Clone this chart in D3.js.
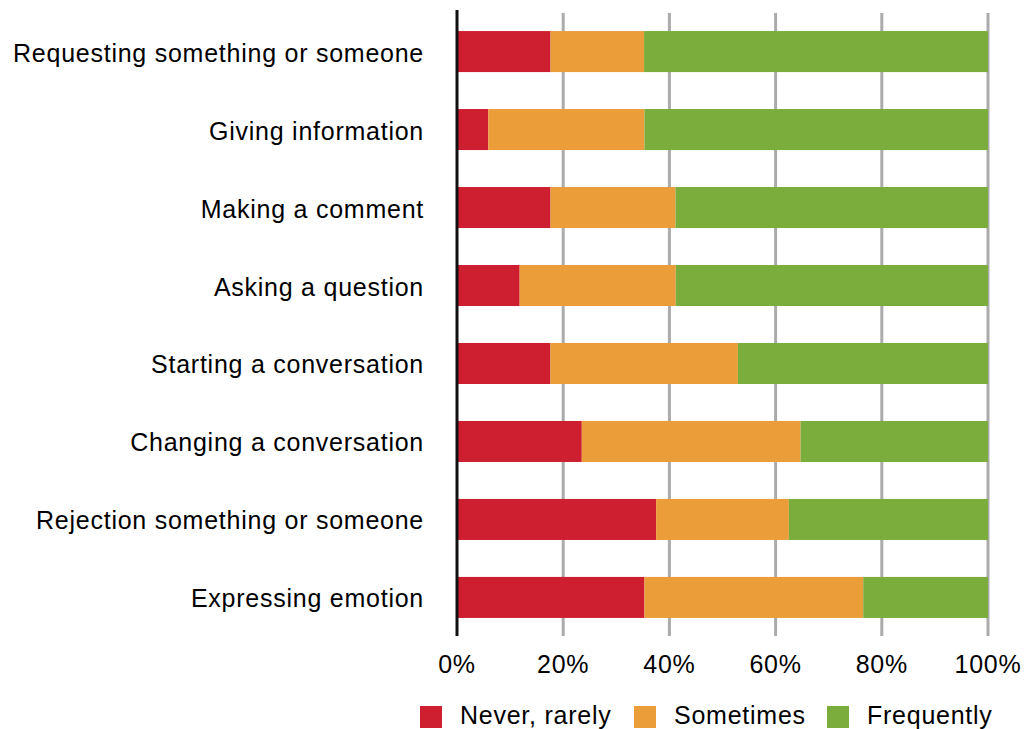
<!DOCTYPE html>
<html>
<head>
<meta charset="utf-8">
<script src="https://cdn.jsdelivr.net/npm/d3@7"></script>
<style>
  html, body { margin: 0; padding: 0; background: #fff; }
  svg { display: block; font-family: "Liberation Sans", Arial, Helvetica, sans-serif; }
  text { letter-spacing: 0.75px; }
</style>
</head>
<body>
<svg id="chart" width="1031" height="729"></svg>
<script>
// Communicative functions, share of answers per frequency class (%)
const categories = [
  "Requesting something or someone",
  "Giving information",
  "Making a comment",
  "Asking a question",
  "Starting a conversation",
  "Changing a conversation",
  "Rejection something or someone",
  "Expressing emotion"
];
const seriesNames = ["Never, rarely", "Sometimes", "Frequently"];
const neverRarely = [17.6, 5.9, 17.6, 11.8, 17.6, 23.5, 37.5, 35.3];
const sometimes   = [17.6, 29.4, 23.5, 29.4, 35.3, 41.2, 25.0, 41.2];
const frequently  = [64.7, 64.7, 58.8, 58.8, 47.1, 35.3, 37.5, 23.5];
const tickValues = [0, 0.2, 0.4, 0.6, 0.8, 1.0];
const colors = ["#cd1f30", "#ea9d38", "#7aad3c"];

const rows = categories.map((c, i) => ({
  category: c,
  [seriesNames[0]]: neverRarely[i],
  [seriesNames[1]]: sometimes[i],
  [seriesNames[2]]: frequently[i]
}));

const stacked = d3.stack()
  .keys(seriesNames)
  .offset(d3.stackOffsetExpand)(rows);

const svg = d3.select("#chart");
const fontSize = 25;

const x = d3.scaleLinear().domain([0, 1]).range([457, 988]);
const y = d3.scaleBand()
  .domain(categories)
  .range([10, 639])
  .paddingInner(0.474)
  .paddingOuter(0.27);

const color = d3.scaleOrdinal().domain(seriesNames).range(colors);

// vertical gridlines
svg.append("g")
  .selectAll("line")
  .data(tickValues.slice(1))
  .join("line")
  .attr("x1", d => x(d)).attr("x2", d => x(d))
  .attr("y1", 13).attr("y2", 636)
  .attr("stroke", "#ababab")
  .attr("stroke-width", 3);

// stacked bars
svg.append("g")
  .selectAll("g")
  .data(stacked)
  .join("g")
  .attr("fill", d => color(d.key))
  .selectAll("rect")
  .data(d => d)
  .join("rect")
  .attr("x", d => x(d[0]))
  .attr("width", d => x(d[1]) - x(d[0]))
  .attr("y", d => y(d.data.category))
  .attr("height", y.bandwidth());

// left axis line
svg.append("line")
  .attr("x1", x(0)).attr("x2", x(0))
  .attr("y1", 10).attr("y2", 636)
  .attr("stroke", "#111")
  .attr("stroke-width", 3);

// category labels
svg.append("g")
  .selectAll("text")
  .data(categories)
  .join("text")
  .attr("x", 424)
  .attr("y", d => y(d) + y.bandwidth() / 2)
  .attr("dy", "0.4em")
  .attr("text-anchor", "end")
  .attr("font-size", fontSize)
  .attr("fill", "#000")
  .text(d => d);

// x tick labels
const fmt = d3.format(".0%");
svg.append("g")
  .selectAll("text")
  .data(tickValues)
  .join("text")
  .attr("x", d => x(d))
  .attr("y", 673)
  .attr("text-anchor", "middle")
  .attr("font-size", fontSize)
  .attr("fill", "#000")
  .text(d => fmt(d));

// legend
const legendX = [420, 634, 827];
const legend = svg.append("g")
  .selectAll("g")
  .data(seriesNames)
  .join("g")
  .attr("transform", (d, i) => `translate(${legendX[i]},706)`);
legend.append("rect")
  .attr("width", 22).attr("height", 22)
  .attr("fill", d => color(d));
legend.append("text")
  .attr("x", 40)
  .attr("y", 18)
  .attr("font-size", fontSize)
  .attr("fill", "#000")
  .text(d => d);
</script>
</body>
</html>
